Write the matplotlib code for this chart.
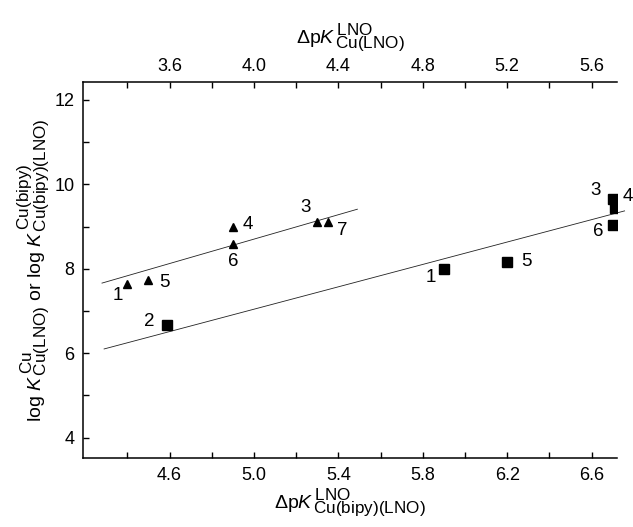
import matplotlib
matplotlib.use("Agg")
import matplotlib.pyplot as plt
import matplotlib._mathtext as _mt
import numpy as np

plt.rcParams['font.family'] = ['Liberation Sans', 'DejaVu Sans']
plt.rcParams['mathtext.fontset'] = 'custom'
plt.rcParams['mathtext.rm'] = 'Liberation Sans'
plt.rcParams['mathtext.it'] = 'Liberation Sans:italic'
plt.rcParams['mathtext.bf'] = 'Liberation Sans:bold'
# reference uses nearly full-size sub/superscripts
_mt.SHRINK_FACTOR = 0.88

# ---- data ----
# Cu(LNO) series (triangles), x on top axis: dpK^LNO_Cu(LNO)
tri_labels = ['1', '5', '6', '4', '3', '7']
tri_x = [3.40, 3.50, 3.90, 3.90, 4.30, 4.35]
tri_y = [7.63, 7.73, 8.59, 8.98, 9.10, 9.10]
tri_line_x = [3.28, 4.49]
tri_line_y = [7.66, 9.41]

# Cu(bipy)(LNO) series (squares), x on bottom axis: dpK^LNO_Cu(bipy)(LNO)
sq_labels = ['2', '1', '5', '6', '3', '4']
sq_x = [4.59, 5.90, 6.20, 6.70, 6.70, 6.71]
sq_y = [6.67, 7.99, 8.17, 9.04, 9.65, 9.45]
sq_line_x = [4.29, 6.756]
sq_line_y = [6.10, 9.37]

bottom_ticks = [4.6, 5.0, 5.4, 5.8, 6.2, 6.6]
top_ticks = [3.6, 4.0, 4.4, 4.8, 5.2, 5.6]
y_ticks = [4, 6, 8, 10, 12]

# ---- layout (label offsets in pixels, dy positive = down) ----
tri_off = [(-10, 11), (16, 2), (0, 18), (15, -3), (-12, -15), (14, 8)]
sq_off = [(-18, -3), (-13, 8), (19, 0), (-15, 7), (-17, -9), (13, -11)]

xlim = (4.19, 6.72)
ylim = (3.51, 12.43)

fig = plt.figure(figsize=(6.33, 5.27), dpi=100)
ax = fig.add_axes([83 / 633, 1 - 458.3 / 527, (617 - 83) / 633, (458.3 - 81.7) / 527])
axt = ax.twiny()

ax.set_xlim(*xlim)
ax.set_ylim(*ylim)
axt.set_xlim(xlim[0] - 1, xlim[1] - 1)

# lines
ax.plot(sq_line_x, sq_line_y, color='#222222', lw=0.6, clip_on=False)
axt.plot(tri_line_x, tri_line_y, color='#222222', lw=0.6)

# markers
ax.plot(sq_x, sq_y, linestyle='none', marker='s', ms=6.5, color='black')
axt.plot(tri_x, tri_y, linestyle='none', marker='^', ms=5.8, color='black')

for lab, x, y, (dx, dy) in zip(sq_labels, sq_x, sq_y, sq_off):
    ax.annotate(lab, (x, y), xytext=(dx, -dy), textcoords='offset pixels',
                ha='center', va='center', fontsize=13.5)
for lab, x, y, (dx, dy) in zip(tri_labels, tri_x, tri_y, tri_off):
    axt.annotate(lab, (x, y), xytext=(dx, -dy), textcoords='offset pixels',
                 ha='center', va='center', fontsize=13.5)

# spines
for a in (ax, axt):
    a.spines['right'].set_visible(False)
for s in ('left', 'bottom'):
    ax.spines[s].set_linewidth(1.1)
ax.spines['top'].set_visible(False)
axt.spines['left'].set_visible(False)
axt.spines['bottom'].set_visible(False)
axt.spines['top'].set_linewidth(1.1)

# ticks
ax.set_xticks(bottom_ticks)
ax.set_xticks(np.arange(4.4, 6.8, 0.2), minor=True)
ax.set_xticklabels([f'{t:.1f}' for t in bottom_ticks])
ax.set_yticks(y_ticks)
ax.set_yticks([5, 7, 9, 11], minor=True)
ax.set_yticklabels([str(t) for t in y_ticks])
axt.set_xticks(top_ticks)
axt.set_xticks(np.arange(3.4, 5.8, 0.2), minor=True)
axt.set_xticklabels([f'{t:.1f}' for t in top_ticks])

ax.tick_params(axis='x', which='both', direction='in', length=4, width=1.0,
               top=False, labelsize=13, pad=6)
ax.tick_params(axis='y', which='both', direction='in', length=4, width=1.0,
               right=False, labelsize=13, pad=6)
axt.tick_params(axis='x', which='both', direction='in', length=4, width=1.0,
                labelsize=13, pad=5)
axt.tick_params(axis='y', which='both', left=False, right=False,
                labelleft=False, labelright=False)

ax.set_xlabel(r'$\Delta\mathrm{p}\mathit{K}^{\,\mathrm{LNO}}_{\,\mathrm{Cu(bipy)(LNO)}}$',
              fontsize=14, labelpad=2)
axt.set_xlabel(r'$\Delta\mathrm{p}\mathit{K}^{\,\mathrm{LNO}}_{\,\mathrm{Cu(LNO)}}$',
               fontsize=14, labelpad=10)
ax.set_ylabel(r'log $\mathit{K}^{\,\mathrm{Cu}}_{\,\mathrm{Cu(LNO)}}$ or log '
              r'$\mathit{K}^{\,\mathrm{Cu(bipy)}}_{\,\mathrm{Cu(bipy)(LNO)}}$',
              fontsize=14, labelpad=2)

fig.savefig('out.png', dpi=100)
